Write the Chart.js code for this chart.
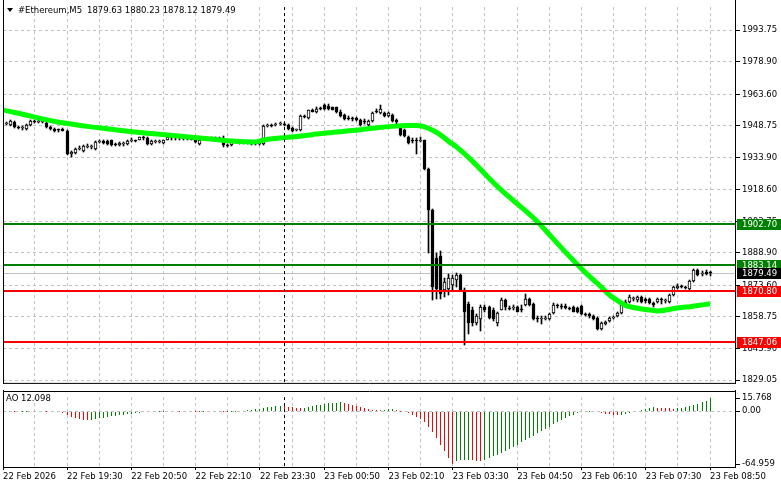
<!DOCTYPE html>
<html>
<head>
<meta charset="utf-8">
<title>#Ethereum,M5</title>
<script src="https://cdn.jsdelivr.net/npm/chart.js@4.4.1/dist/chart.umd.min.js"></script>
<style>
  html, body { margin: 0; padding: 0; background: #fff; }
  body { position: relative; width: 781px; height: 489px; overflow: hidden; }
  canvas { position: absolute; left: 0; }
  #priceChart { top: 0; }
  #aoChart { top: 390px; }
  .txt { position: absolute; font-family: "DejaVu Sans", sans-serif; font-size: 8.5px; color: #000; white-space: pre; line-height: 10px; }
  .tri { position: absolute; left: 7px; top: 8px; width: 0; height: 0; border-left: 3.5px solid transparent; border-right: 3.5px solid transparent; border-top: 4px solid #000; }
</style>
</head>
<body>
<canvas id="priceChart" width="781" height="390"></canvas>
<canvas id="aoChart" width="781" height="99"></canvas>
<div class="tri"></div>
<div class="txt" style="left:18px; top:5px;">#Ethereum,M5</div>
<div class="txt" style="left:87px; top:5px;">1879.63 1880.23 1878.12 1879.49</div>
<div class="txt" style="left:6px; top:393px;">AO 12.098</div>
<script>
// ---- data (M5 bars, 22 Feb 18:15 .. 23 Feb 08:50) ----
const opens = [1949.6,1949.2,1950.5,1948.3,1947.8,1947.3,1949.2,1951.0,1950.5,1950.6,
  1950.1,1948.3,1947.3,1946.9,1947.3,1946.4,1935.5,1935.9,1937.8,1936.9,
  1938.7,1938.7,1937.8,1941.0,1941.4,1941.4,1941.9,1940.1,1939.6,1940.1,
  1940.1,1941.4,1941.9,1942.3,1943.3,1942.8,1940.1,1941.0,1941.0,1940.5,
  1942.3,1943.7,1942.8,1943.3,1942.8,1942.8,1943.3,1942.3,1940.1,1942.3,
  1942.8,1942.8,1943.3,1942.8,1942.3,1939.6,1939.6,1941.0,1941.0,1940.5,
  1941.0,1941.0,1940.5,1940.1,1940.1,1948.7,1949.2,1949.2,1949.6,1949.6,
  1949.2,1947.8,1946.9,1946.9,1953.3,1952.4,1956.0,1955.1,1956.9,1958.7,
  1958.3,1957.4,1957.4,1955.5,1953.7,1952.4,1952.4,1952.4,1951.5,1951.0,
  1949.2,1951.0,1955.5,1954.6,1954.6,1953.3,1953.7,1951.5,1947.8,1946.9,
  1943.7,1941.9,1941.9,1941.4,1941.9,1928.2,1909.1,1886.4,1887.3,1871.3,
  1871.8,1873.6,1876.3,1878.6,1871.3,1865.0,1862.2,1855.9,1857.7,1863.6,
  1863.6,1862.2,1855.9,1862.2,1866.8,1863.1,1863.1,1863.6,1862.7,1864.5,
  1867.3,1865.0,1858.2,1857.7,1857.7,1857.7,1860.4,1864.5,1864.1,1864.1,
  1863.1,1863.6,1863.1,1864.1,1860.0,1860.0,1859.1,1858.2,1853.1,1855.4,
  1856.8,1858.2,1859.1,1860.4,1864.5,1865.9,1867.3,1866.8,1868.2,1867.3,
  1867.3,1865.5,1865.9,1867.3,1866.4,1865.9,1869.1,1872.2,1873.2,1872.7,
  1871.8,1875.9,1880.9,1879.1,1880.0,1879.63];
const highs = [1950.5,1951.5,1951.0,1948.7,1948.7,1949.6,1951.5,1951.5,1951.5,1951.5,
  1950.5,1948.7,1947.8,1947.3,1947.8,1946.9,1936.9,1938.2,1939.2,1939.6,
  1940.1,1939.6,1941.4,1942.3,1941.9,1941.9,1942.3,1940.5,1941.0,1941.0,
  1941.9,1942.8,1942.3,1943.7,1944.2,1943.3,1941.9,1941.9,1942.3,1942.3,
  1944.2,1944.2,1943.7,1943.7,1943.3,1943.7,1943.7,1942.8,1942.3,1943.3,
  1943.3,1943.7,1943.7,1943.3,1944.2,1940.1,1941.4,1941.4,1941.4,1941.4,
  1941.4,1941.4,1941.4,1941.0,1949.2,1949.6,1949.6,1950.1,1950.5,1950.1,
  1949.6,1948.3,1947.3,1953.7,1953.7,1956.4,1956.9,1957.4,1957.8,1959.2,
  1958.9,1957.8,1957.8,1956.0,1954.2,1953.3,1952.8,1952.8,1951.9,1951.9,
  1951.5,1955.1,1956.9,1958.7,1955.1,1955.1,1954.2,1951.9,1948.7,1947.3,
  1944.2,1942.8,1942.8,1943.3,1942.3,1928.7,1909.6,1889.1,1889.6,1877.3,
  1879.1,1878.6,1879.5,1879.1,1872.2,1865.9,1863.6,1860.0,1864.5,1864.5,
  1864.1,1863.1,1861.3,1867.7,1867.3,1864.1,1864.5,1864.1,1864.5,1869.5,
  1867.7,1865.5,1859.1,1859.1,1859.1,1860.4,1865.5,1865.0,1865.0,1865.0,
  1863.6,1864.1,1863.6,1864.5,1860.4,1860.4,1859.5,1858.6,1856.4,1856.8,
  1858.6,1859.1,1860.9,1865.0,1866.8,1869.1,1868.2,1868.6,1868.6,1867.7,
  1867.7,1865.9,1867.7,1867.7,1867.3,1869.5,1873.2,1874.1,1873.6,1873.2,
  1876.3,1881.4,1881.4,1880.4,1880.9,1880.23];
const lows = [1949.2,1948.7,1947.8,1947.3,1946.9,1946.9,1948.7,1950.1,1950.1,1950.1,
  1947.8,1946.9,1946.0,1946.0,1946.2,1935.1,1934.2,1935.5,1937.3,1936.4,
  1938.2,1937.8,1937.3,1940.5,1940.1,1939.6,1939.2,1939.2,1939.2,1939.2,
  1939.6,1941.0,1941.0,1941.9,1942.3,1939.6,1939.6,1940.5,1940.5,1940.1,
  1941.9,1942.3,1942.3,1942.3,1941.9,1941.9,1941.9,1940.5,1939.6,1941.9,
  1941.9,1942.3,1942.3,1941.9,1938.7,1938.7,1939.2,1940.5,1940.1,1940.1,
  1940.1,1939.6,1939.6,1939.6,1939.6,1948.3,1948.3,1948.7,1949.2,1948.7,
  1946.9,1946.0,1946.4,1946.4,1952.4,1951.9,1955.1,1954.6,1956.4,1956.4,
  1956.0,1956.0,1954.6,1952.8,1951.5,1951.5,1951.0,1951.0,1948.7,1949.6,
  1948.7,1950.5,1954.6,1954.2,1952.8,1952.8,1950.5,1949.6,1944.2,1943.7,
  1940.1,1940.5,1935.5,1941.0,1927.8,1889.1,1866.8,1867.3,1867.3,1868.2,
  1869.1,1871.3,1872.7,1870.9,1845.4,1850.9,1854.5,1855.0,1852.2,1861.3,
  1857.7,1856.8,1854.5,1861.8,1862.2,1861.8,1862.2,1860.9,1860.9,1864.1,
  1864.1,1857.3,1856.4,1855.4,1857.3,1857.3,1860.0,1863.1,1862.7,1862.7,
  1861.8,1860.9,1860.4,1859.5,1859.1,1858.2,1857.3,1852.7,1852.7,1855.0,
  1856.4,1857.7,1858.6,1860.0,1864.1,1865.5,1866.4,1865.9,1865.5,1865.5,
  1865.0,1863.6,1865.5,1865.0,1865.5,1865.5,1868.6,1871.8,1872.2,1871.8,
  1871.3,1875.4,1878.2,1878.2,1878.6,1878.12];
const closes = [1950.1,1951.0,1948.3,1947.8,1948.0,1949.2,1951.0,1950.5,1951.0,1951.2,
  1948.3,1947.3,1946.4,1946.6,1946.4,1935.5,1936.4,1937.8,1938.2,1939.2,
  1939.2,1939.0,1941.0,1941.4,1940.5,1940.1,1939.6,1939.6,1940.5,1940.4,
  1941.4,1941.9,1941.6,1943.3,1943.1,1940.1,1941.4,1941.3,1941.4,1941.9,
  1943.3,1942.8,1943.3,1942.8,1943.0,1943.3,1942.3,1941.0,1941.9,1942.8,
  1942.3,1943.3,1942.8,1942.3,1939.6,1939.2,1941.0,1940.8,1940.5,1941.0,
  1940.5,1940.1,1940.3,1940.5,1948.7,1949.2,1948.7,1949.6,1949.8,1949.2,
  1947.3,1946.4,1947.1,1953.3,1952.8,1956.0,1955.5,1956.9,1956.6,1956.9,
  1956.6,1956.4,1955.1,1953.3,1951.9,1951.9,1951.9,1951.5,1949.2,1950.5,
  1951.0,1954.6,1955.1,1956.9,1953.3,1954.6,1951.0,1950.5,1944.6,1944.2,
  1940.5,1941.4,1941.4,1941.9,1928.2,1909.1,1872.7,1871.8,1869.5,1875.0,
  1877.3,1877.3,1878.6,1871.3,1861.3,1855.9,1855.9,1859.1,1863.6,1862.2,
  1858.2,1857.7,1860.4,1866.8,1863.6,1862.7,1863.6,1861.3,1862.2,1867.3,
  1864.5,1857.7,1857.7,1858.2,1858.2,1860.0,1864.5,1864.1,1863.6,1863.1,
  1862.7,1861.3,1860.9,1860.0,1859.5,1859.1,1857.7,1853.1,1855.9,1856.4,
  1858.2,1858.6,1860.4,1864.5,1865.9,1868.2,1867.7,1868.2,1865.9,1866.4,
  1865.5,1864.5,1867.3,1866.8,1866.8,1869.1,1872.7,1873.2,1872.7,1872.2,
  1875.9,1880.9,1878.6,1879.5,1879.1,1879.49];

// moving average at these bar numbers
const maIdx = [-1,0,4,8,12,16,20,24,28,32,36,40,44,48,52,56,60,62,64,68,72,76,80,84,88,92,96,
  100,102,104,106,108,110,112,116,120,124,128,132,136,140,144,148,150,152,154,156,158,160,
  162,164,166,168,170,172,175];
const maVals = [1956.3,1955.8,1954.2,1952.4,1950.8,1949.6,1948.5,1947.6,1946.7,1945.8,1945.1,
  1944.4,1943.7,1943.0,1942.3,1941.6,1941.2,1941.2,1942.1,1943.0,1943.7,1944.6,1945.5,1946.2,
  1946.9,1947.8,1948.5,1948.9,1948.9,1948.3,1946.7,1944.4,1941.4,1938.7,1931.9,1924.1,1916.9,
  1910.5,1903.7,1895.5,1887.3,1879.6,1872.7,1869.1,1866.4,1864.1,1863.2,1862.5,1862.0,1861.6,
  1862.0,1862.7,1863.2,1863.6,1864.1,1865.0];

// Awesome Oscillator
const aoVals = [0.4,0.2,-0.3,-0.6,-0.4,-0.1,0.3,0.5,0.4,0.2,
  -0.2,-0.5,-0.8,-1.3,-2.6,-4.6,-6.8,-8.6,-9.9,-10.8,
  -11.2,-10.4,-9.5,-8.7,-7.9,-7.2,-6.5,-5.8,-5.1,-4.4,
  -3.8,-3.1,-2.5,-1.9,-1.4,-1.0,-0.7,-0.5,-0.3,-0.1,
  0.1,0.2,0.1,-0.1,0.1,0.2,0.1,-0.2,-0.3,-0.2,
  0.0,0.2,0.3,0.2,-0.1,-0.4,-0.3,-0.1,0.1,0.4,
  0.8,1.4,2.1,2.9,3.8,4.6,5.3,5.8,6.2,6.0,
  5.5,4.9,4.3,4.0,4.4,5.2,6.1,7.0,7.9,8.7,
  9.4,10.0,10.5,10.8,10.3,9.2,7.8,6.2,4.7,3.3,
  2.2,1.5,1.2,1.4,1.7,2.0,2.1,1.3,-0.4,-1.5,
  -2.8,-4.5,-6.8,-9.5,-13.5,-19.0,-26.0,-33.5,-41.0,-49.0,
  -57.5,-64.959,-61.0,-60.5,-60.1,-59.8,-60.4,-61.0,-61.3,-59.6,
  -57.5,-55.5,-53.2,-51.0,-48.5,-46.0,-43.5,-41.0,-38.3,-35.5,
  -32.8,-30.0,-27.2,-24.5,-21.8,-19.0,-16.3,-13.6,-11.0,-8.6,
  -6.4,-4.5,-2.8,-1.5,-0.6,-0.3,-0.8,-1.6,-2.5,-3.3,
  -3.9,-4.3,-4.5,-4.2,-3.3,-2.2,-1.0,0.5,1.8,3.0,
  3.9,4.5,4.3,4.0,3.7,3.4,3.2,3.5,4.3,5.3,
  6.5,7.8,9.3,11.0,13.0,15.768];

// horizontal levels
const resistLevels = [1902.70, 1883.14];
const supportLevels = [1870.80, 1847.06];
const bidPrice = 1879.49;

// axes
const yTickVals = [1993.75, 1978.90, 1963.60, 1948.75, 1933.90, 1918.60, 1903.75, 1888.90, 1873.60, 1858.75, 1843.90, 1829.05];
const aoTickVals = [15.768, 0, -64.959];
const firstLabel = "22 Feb 2026";
const xLabelIdx = [15, 31, 47, 63, 79, 95, 111, 127, 143, 159, 175];
const xLabels = ["22 Feb 19:30", "22 Feb 20:50", "22 Feb 22:10", "22 Feb 23:30", "23 Feb 00:50",
  "23 Feb 02:10", "23 Feb 03:30", "23 Feb 04:50", "23 Feb 06:10", "23 Feb 07:30", "23 Feb 08:50"];
const crossIdx = 69;

// ---- layout / style ----
const FONT = '"DejaVu Sans", sans-serif';
const GRID = '#c0c0c0';
const X0 = 6.72, XSTEP = 4.019;          // pixel of bar 0, pixels per bar
const xMin = (3 - X0) / XSTEP, xMax = (735 - X0) / XSTEP;
const yMax = 2004.67, yMin = 1827.69;
const aoMax = 17.2, aoMin = -68.5;
const gridIdx = [];
for (let g = 7; g <= xMax; g += 8) gridIdx.push(g);

Chart.defaults.font.family = FONT;
Chart.defaults.font.size = 8.5;
Chart.defaults.color = '#000';

const idx = closes.map((_, i) => i);

// snap bar elements to whole pixels so 1px / 3px bars stay crisp like the terminal
const snapBars = {
  id: 'snapBars',
  afterDatasetsUpdate(chart) {
    chart.data.datasets.forEach((ds, di) => {
      const meta = chart.getDatasetMeta(di);
      if (meta.type !== 'bar') return;
      meta.data.forEach(el => {
        el.x = Math.floor(el.x) + 0.5;
        el.y = Math.round(el.y);
        el.base = Math.round(el.base);
      });
    });
  }
};

function frameLines(chart, top, bottomLine) {
  const { ctx, chartArea: a } = chart;
  const cx = Math.round(chart.scales.x.getPixelForValue(crossIdx)) + 0.5;
  ctx.save();
  ctx.strokeStyle = '#000';
  ctx.lineWidth = 1;
  ctx.setLineDash([3, 3]);
  ctx.beginPath(); ctx.moveTo(cx, a.top); ctx.lineTo(cx, a.bottom); ctx.stroke();
  ctx.setLineDash([]);
  ctx.beginPath();
  ctx.moveTo(a.left + 0.5, 0); ctx.lineTo(a.left + 0.5, a.bottom + 1);
  ctx.moveTo(a.right + 0.5, 0); ctx.lineTo(a.right + 0.5, a.bottom + 1);
  if (top !== null) { ctx.moveTo(a.left, top); ctx.lineTo(a.right + 1, top); }
  if (bottomLine) { ctx.moveTo(a.left, a.bottom + 0.5); ctx.lineTo(a.right + 1, a.bottom + 0.5); }
  ctx.stroke();
  ctx.restore();
}

// horizontal level lines + price tags on the right axis
const levelStyles = [
  { v: resistLevels[0], color: '#008000', w: 2, fg: '#fff' },
  { v: resistLevels[1], color: '#008000', w: 2, fg: '#fff' },
  { v: bidPrice, color: '#c0c0c0', w: 1, tag: '#000', fg: '#fff' },
  { v: supportLevels[0], color: '#ff0000', w: 2, fg: '#fff' },
  { v: supportLevels[1], color: '#ff0000', w: 2, fg: '#fff' }
];

const pricePlugin = {
  id: 'pricePlugin',
  beforeDatasetsDraw(chart) {
    // bid line sits under the bars
    const { ctx, chartArea: a } = chart;
    const y = chart.scales.y;
    const s = levelStyles[2];
    const py = Math.round(y.getPixelForValue(s.v)) + 0.5;
    ctx.save();
    ctx.strokeStyle = s.color; ctx.lineWidth = 1;
    ctx.beginPath(); ctx.moveTo(a.left, py); ctx.lineTo(a.right, py); ctx.stroke();
    ctx.restore();
  },
  afterDatasetsDraw(chart) {
    const { ctx, chartArea: a } = chart;
    const y = chart.scales.y;
    ctx.save();
    levelStyles.forEach((s, k) => {
      if (k === 2) return;
      const py = Math.round(y.getPixelForValue(s.v));
      ctx.fillStyle = s.color;
      ctx.fillRect(a.left, py - 1, a.right - a.left, s.w);
    });
    ctx.restore();
    frameLines(chart, null, true);
  },
  afterDraw(chart) {
    const { ctx } = chart;
    const y = chart.scales.y;
    ctx.save();
    ctx.font = '8.5px ' + FONT;
    ctx.textBaseline = 'middle';
    levelStyles.forEach(s => {
      const py = Math.round(y.getPixelForValue(s.v));
      ctx.fillStyle = s.tag || s.color;
      ctx.fillRect(737, py - 5, 44, 11);
      ctx.fillStyle = s.fg;
      ctx.fillText(s.v.toFixed(2), 742, py + 0.5);
    });
    ctx.restore();
  }
};

const aoPlugin = {
  id: 'aoPlugin',
  afterDatasetsDraw(chart) { frameLines(chart, 1.5, false); }
};

new Chart(document.getElementById('priceChart'), {
  type: 'bar',
  data: {
    datasets: [
      { type: 'line', data: maIdx.map((x, k) => ({ x: x, y: maVals[k] })), borderColor: '#00ff00',
        borderWidth: 5, pointRadius: 0, tension: 0.25, order: 0 },
      { type: 'bar', data: idx.map(i => ({ x: i, y: [opens[i], closes[i]] })),
        backgroundColor: idx.map(i => closes[i] >= opens[i] ? '#ffffff' : '#000000'),
        borderColor: '#000', borderWidth: 1, borderSkipped: false, barThickness: 3,
        minBarLength: 1, grouped: false, order: 2 },
      { type: 'bar', data: idx.map(i => ({ x: i, y: [lows[i], highs[i]] })),
        backgroundColor: '#000', borderWidth: 0, barThickness: 1, grouped: false, order: 3 }
    ]
  },
  options: {
    animation: false, responsive: false, devicePixelRatio: 1, events: [],
    layout: { padding: { left: 3, right: 0, top: 0, bottom: 1 } },
    plugins: { legend: { display: false }, tooltip: { enabled: false } },
    scales: {
      x: {
        type: 'linear', min: xMin, max: xMax, offset: false, bounds: 'data',
        afterBuildTicks: s => { s.ticks = gridIdx.map(v => ({ value: v })); },
        afterFit: s => { s.height = 0; },
        ticks: { display: false },
        grid: { color: GRID, drawTicks: false, offset: false },
        border: { display: false, dash: [3, 3] }
      },
      y: {
        position: 'right', min: yMin, max: yMax, bounds: 'data', beginAtZero: false,
        afterBuildTicks: s => { s.ticks = yTickVals.map(v => ({ value: v })); },
        afterFit: s => { s.width = 46; },
        ticks: { autoSkip: false, padding: 2, callback: v => Number(v).toFixed(2) },
        grid: { color: GRID, tickLength: 5, tickColor: '#000' },
        border: { display: false, dash: [3, 3] }
      }
    }
  },
  plugins: [snapBars, pricePlugin]
});

const aoColors = aoVals.map((v, i) => (i === 0 || v > aoVals[i - 1]) ? '#008000' : '#ff0000');

function xLabelFor(v) {
  if (v === xMin) return firstLabel;
  const k = xLabelIdx.indexOf(v);
  return k >= 0 ? xLabels[k] : '';
}

new Chart(document.getElementById('aoChart'), {
  type: 'bar',
  data: {
    datasets: [
      { data: idx.map(i => ({ x: i, y: [0, aoVals[i]] })), backgroundColor: aoColors,
        borderWidth: 0, barThickness: 1, grouped: false, inflateAmount: 0 }
    ]
  },
  options: {
    animation: false, responsive: false, devicePixelRatio: 1, events: [],
    layout: { padding: { left: 3, right: 0, top: 2, bottom: 0 } },
    plugins: { legend: { display: false }, tooltip: { enabled: false } },
    scales: {
      x: {
        type: 'linear', min: xMin, max: xMax, offset: false, bounds: 'data',
        afterBuildTicks: s => { s.ticks = [xMin].concat(gridIdx).map(v => ({ value: v })); },
        afterFit: s => { s.height = 22; },
        ticks: { autoSkip: false, maxRotation: 0, minRotation: 0, align: 'start', padding: 2,
          callback: v => xLabelFor(v) },
        grid: {
          offset: false, tickLength: 3,
          color: c => (c.index === 0 ? 'rgba(0,0,0,0)' : GRID),
          tickColor: c => (c.tick && xLabelFor(c.tick.value) !== '' ? '#000' : 'rgba(0,0,0,0)')
        },
        border: { display: true, color: '#000', dash: [3, 3] }
      },
      y: {
        position: 'right', min: aoMin, max: aoMax, bounds: 'data', beginAtZero: false,
        afterBuildTicks: s => { s.ticks = aoTickVals.map(v => ({ value: v })); },
        afterFit: s => { s.width = 46; },
        ticks: { autoSkip: false, padding: 2, callback: v => (v === 0 ? '0.00' : Number(v).toFixed(3)) },
        grid: { tickLength: 5, tickColor: '#000',
          color: c => (c.tick && c.tick.value === 0 ? GRID : 'rgba(0,0,0,0)') },
        border: { display: false, dash: [3, 3] }
      }
    }
  },
  plugins: [snapBars, aoPlugin]
});
</script>
</body>
</html>
